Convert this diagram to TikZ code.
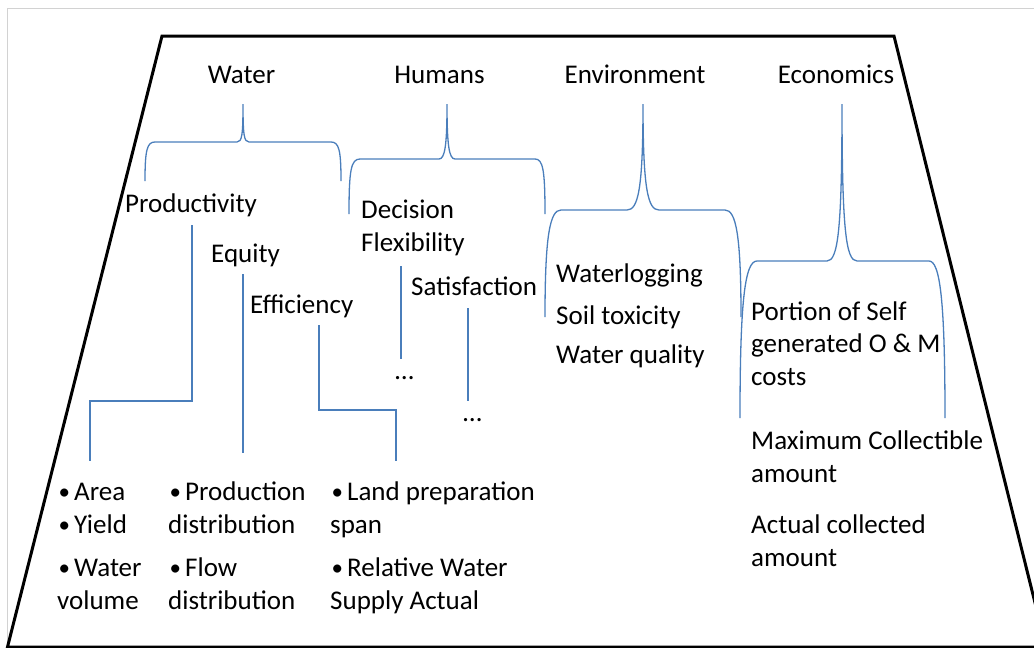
\documentclass[tikz,border=0pt]{standalone}
\usepackage{fontspec}
\setmainfont{Carlito}
\definecolor{linkblue}{HTML}{4A7EBB}
\newcommand{\bul}{\makebox[17pt][l]{\hspace{1.5pt}\raisebox{1pt}{\fontsize{23}{23}\selectfont •}}}
\begin{document}
\begin{tikzpicture}[x=1pt,y=-1pt,
  lbl/.style={inner sep=0pt, anchor=base west, align=left, font=\fontsize{27}{32.5}\selectfont},
  ttl/.style={inner sep=0pt, anchor=base, font=\fontsize{27}{32.5}\selectfont},
  link/.style={draw=linkblue, line width=1.3pt},
  trap/.style={draw=black, line width=3pt, line join=miter}]
\useasboundingbox (0,0) rectangle (1034,648);
% outer light frame
\draw[gray!35, line width=1pt] (7,660) -- (7,8) -- (1040,8);
% trapezoid
\draw[trap] (7.5,647) -- (162,36) -- (894,36) -- (1046,647) -- cycle;
% titles
\node[ttl] (water) at (241.5,83) {Water};
\node[ttl] (humans) at (439.5,83) {Humans};
\node[ttl] (env) at (635,83) {Environment};
\node[ttl] (econ) at (836,83) {Economics};
% braces
\draw[link] (145,181) .. controls (145,150) and (147,142) .. (155,142) -- (237,142)
  .. controls (242,142) and (243,135) .. (243,104)
  .. controls (243,135) and (244,142) .. (249,142) -- (331,142)
  .. controls (339,142) and (341,150) .. (341,181);
\draw[link] (349,214) .. controls (349,170) and (351,159) .. (360,159) -- (439,159)
  .. controls (445,159) and (447,145) .. (447,104)
  .. controls (447,145) and (449,159) .. (455,159) -- (535,159)
  .. controls (543,159) and (545,170) .. (545,214);
\draw[link] (545,317) .. controls (545,235) and (550,210) .. (561,210) -- (627,210)
  .. controls (638,210) and (643,190) .. (643,104)
  .. controls (643,190) and (648,210) .. (659,210) -- (725,210)
  .. controls (736,210) and (741,235) .. (741,317);
\draw[link] (740,418) .. controls (740,300) and (745,261) .. (757,261) -- (827,261)
  .. controls (838,261) and (842,230) .. (842,104)
  .. controls (842,230) and (846,261) .. (857,261) -- (929,261)
  .. controls (940,261) and (945,300) .. (945,418);
% sub criteria (anchor = baseline of last line)
\node[lbl] (prod) at (125,212) {Productivity};
\node[lbl] (equity) at (211,262) {Equity};
\node[lbl] (eff) at (250,313) {Efficiency};
\node[lbl] (dec) at (361,251) {Decision\\Flexibility};
\node[lbl] (sat) at (411,295) {Satisfaction};
\node[lbl] (dots1) at (395,379) {…};
\node[lbl] (dots2) at (463,421) {…};
\node[lbl] (wl) at (556,282) {Waterlogging};
\node[lbl] (st) at (556,324) {Soil toxicity};
\node[lbl] (wq) at (556,363) {Water quality};
\node[lbl] (por) at (751,385) {Portion of Self\\generated O \& M\\costs};
\node[lbl] (max) at (751,482) {Maximum Collectible\\amount};
\node[lbl] (act) at (751,566) {Actual collected\\amount};
% indicators
\node[lbl] (b1) at (57,609) {\bul Area\\\bul Yield\\[11pt]\bul Water\\volume};
\node[lbl] (b2) at (168,609) {\bul Production\\distribution\\[11pt]\bul Flow\\distribution};
\node[lbl] (b3) at (330,609) {\bul Land preparation\\span\\[11pt]\bul Relative Water\\Supply Actual};
% connectors
\coordinate (prodOut) at (192,225);
\coordinate (b1In) at (90,461);
\draw[link] (prodOut) -- (192,401) -| (b1In);
\coordinate (eqOut) at (243,274);
\coordinate (b2In) at (243,453);
\draw[link] (eqOut) -- (b2In);
\coordinate (effOut) at (319,325);
\coordinate (b3In) at (396,461);
\draw[link] (effOut) -- (319,410) -| (b3In);
\coordinate (decOut) at (401,266);
\coordinate (d1In) at (401,359);
\draw[link] (decOut) -- (d1In);
\coordinate (satOut) at (468,308);
\coordinate (d2In) at (468,401);
\draw[link] (satOut) -- (d2In);
\end{tikzpicture}
\end{document}
